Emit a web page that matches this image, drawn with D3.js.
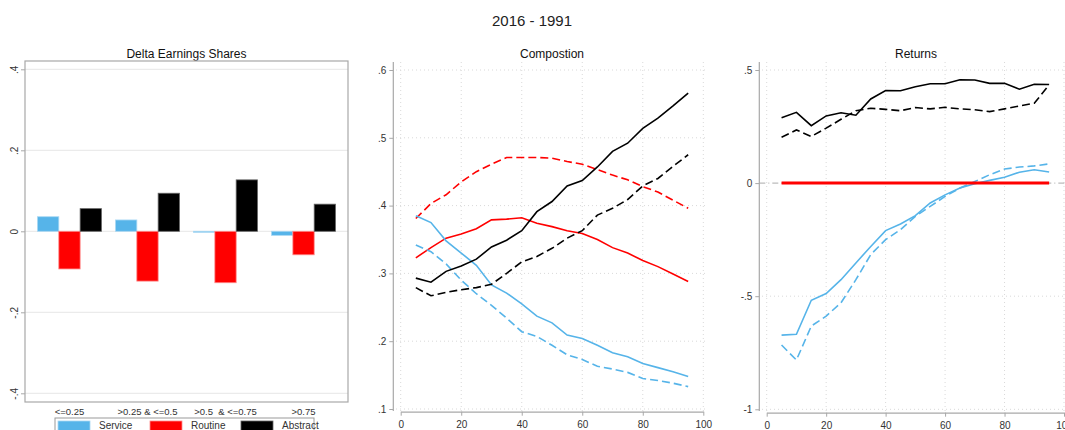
<!DOCTYPE html>
<html>
<head>
<meta charset="utf-8">
<script src="https://cdn.jsdelivr.net/npm/d3@7"></script>
<style>
body { margin: 0; background: #fff; }
svg { font-family: "Liberation Sans", Arial, sans-serif; }
</style>
</head>
<body>
<div id="chart"></div>
<script>
// ---- data ----
var groups = ["<=0.25", ">0.25 & <=0.5", ">0.5  & <=0.75", ">0.75"];
var barSeries = ["Service", "Routine", "Abstract"];
var serviceShare = [0.036, 0.028, -0.002, -0.010];
var routineShare = [-0.093, -0.123, -0.127, -0.058];
var abstractShare = [0.056, 0.094, 0.127, 0.067];
var shareTicks = [-0.4, -0.2, 0, 0.2, 0.4];

var pct = [5, 10, 15, 20, 25, 30, 35, 40, 45, 50, 55, 60, 65, 70, 75, 80, 85, 90, 95];
var pctTicks = [0, 20, 40, 60, 80, 100];

// composition (solid = 2016, dashed = 1991)
var compService16 = [0.385, 0.375, 0.348, 0.330, 0.312, 0.283, 0.271, 0.255, 0.237, 0.227, 0.209, 0.204, 0.194, 0.183, 0.177, 0.167, 0.161, 0.155, 0.148];
var compService91 = [0.342, 0.332, 0.314, 0.290, 0.270, 0.253, 0.234, 0.214, 0.207, 0.194, 0.180, 0.173, 0.163, 0.159, 0.154, 0.145, 0.142, 0.138, 0.133];
var compRoutine16 = [0.323, 0.338, 0.352, 0.358, 0.366, 0.379, 0.380, 0.382, 0.374, 0.369, 0.363, 0.359, 0.350, 0.338, 0.330, 0.319, 0.310, 0.299, 0.288];
var compRoutine91 = [0.381, 0.403, 0.416, 0.435, 0.450, 0.461, 0.471, 0.471, 0.471, 0.470, 0.465, 0.461, 0.453, 0.445, 0.438, 0.428, 0.420, 0.408, 0.396];
var compAbstract16 = [0.293, 0.287, 0.303, 0.311, 0.321, 0.339, 0.349, 0.363, 0.391, 0.406, 0.429, 0.437, 0.457, 0.480, 0.492, 0.514, 0.529, 0.547, 0.566];
var compAbstract91 = [0.279, 0.267, 0.272, 0.276, 0.279, 0.284, 0.300, 0.317, 0.325, 0.337, 0.352, 0.363, 0.386, 0.396, 0.409, 0.429, 0.440, 0.458, 0.475];
var compTicks = [0.1, 0.2, 0.3, 0.4, 0.5, 0.6];

// returns (solid = 2016, dashed = 1991)
var retService16 = [-0.672, -0.668, -0.518, -0.488, -0.427, -0.353, -0.280, -0.210, -0.181, -0.144, -0.088, -0.052, -0.022, -0.003, 0.012, 0.026, 0.048, 0.059, 0.049];
var retService91 = [-0.716, -0.782, -0.632, -0.588, -0.529, -0.427, -0.316, -0.250, -0.206, -0.147, -0.103, -0.059, -0.022, 0.007, 0.037, 0.062, 0.071, 0.076, 0.085];
var retRoutine = [0, 0, 0, 0, 0, 0, 0, 0, 0, 0, 0, 0, 0, 0, 0, 0, 0, 0, 0];
var retAbstract16 = [0.289, 0.313, 0.254, 0.297, 0.311, 0.300, 0.372, 0.409, 0.408, 0.426, 0.439, 0.439, 0.457, 0.456, 0.441, 0.441, 0.415, 0.437, 0.436];
var retAbstract91 = [0.203, 0.235, 0.206, 0.243, 0.282, 0.320, 0.331, 0.326, 0.320, 0.334, 0.328, 0.335, 0.328, 0.324, 0.316, 0.328, 0.341, 0.353, 0.434];
var retTicks = [-1, -0.5, 0, 0.5];

// ---- styles ----
var colBlue = "#56b4e9", colRed = "#ff0000", colBlack = "#000000";
var barColor = { Service: colBlue, Routine: colRed, Abstract: colBlack };
var barEdge = { Service: "#a9d8f3", Routine: "#ff8c8c", Abstract: "#666666" };
var txtCol = "#333";
var axCol = "#a8a8a8";
var gridCol = "#d9d9d9";

// stata style labels: .4  -.2  0
function stataFmt(v) {
    return String(+v.toFixed(2)).replace("0.", ".");
}

var svg = d3.select("#chart")
    .append("svg")
    .attr("width", 1065)
    .attr("height", 430);

svg.append("text")
    .attr("x", 532).attr("y", 26)
    .attr("text-anchor", "middle")
    .style("font-size", "15px")
    .attr("fill", "#222")
    .text("2016 - 1991");

// =================== panel 1 : bars ===================
var p1 = { left: 25, right: 348, top: 61, bottom: 402 };

var y1 = d3.scaleLinear().domain([-0.4, 0.4]).range([393.3, 69.3]);
var x1 = d3.scaleBand().domain(groups).range([p1.left, p1.right])
    .paddingInner(0.18).paddingOuter(0.16);
var xs1 = d3.scaleBand().domain(barSeries).range([0, x1.bandwidth()]);

svg.append("text")
    .attr("x", (p1.left + p1.right) / 2).attr("y", 58)
    .attr("text-anchor", "middle")
    .style("font-size", "12px").attr("fill", "#111")
    .text("Delta Earnings Shares");

// grid
svg.append("g").selectAll("line")
    .data(shareTicks).enter().append("line")
    .attr("x1", p1.left).attr("x2", p1.right)
    .attr("y1", function(d) { return y1(d); })
    .attr("y2", function(d) { return y1(d); })
    .attr("stroke", "#e6e6e6").attr("stroke-width", 1);

var ax1 = svg.append("g")
    .attr("transform", "translate(" + p1.left + ",0)")
    .call(d3.axisLeft(y1).tickValues(shareTicks).tickSize(4).tickFormat(stataFmt));
ax1.select(".domain").remove();
ax1.selectAll("line").attr("stroke", axCol);
ax1.selectAll("text")
    .attr("fill", txtCol).style("font-size", "10px")
    .attr("text-anchor", "middle")
    .attr("transform", "translate(-7,0) rotate(-90)")
    .attr("x", 0).attr("dy", "0").attr("y", 0);

// bars
var barRows = [];
groups.forEach(function(g, i) {
    barRows.push({ g: g, s: "Service", v: serviceShare[i] });
    barRows.push({ g: g, s: "Routine", v: routineShare[i] });
    barRows.push({ g: g, s: "Abstract", v: abstractShare[i] });
});

svg.append("g").selectAll("rect")
    .data(barRows).enter().append("rect")
    .attr("x", function(d) { return x1(d.g) + xs1(d.s); })
    .attr("width", xs1.bandwidth())
    .attr("y", function(d) { return y1(Math.max(0, d.v)); })
    .attr("height", function(d) { return Math.max(1, Math.abs(y1(d.v) - y1(0))); })
    .attr("fill", function(d) { return barColor[d.s]; })
    .attr("stroke", function(d) { return barEdge[d.s]; })
    .attr("stroke-width", 0.8);

svg.append("rect")
    .attr("x", p1.left).attr("y", p1.top)
    .attr("width", p1.right - p1.left).attr("height", p1.bottom - p1.top)
    .attr("fill", "none").attr("stroke", axCol).attr("stroke-width", 1.2);

svg.append("g").selectAll("text")
    .data(groups).enter().append("text")
    .attr("x", function(d) { return x1(d) + x1.bandwidth() / 2; })
    .attr("y", 415)
    .attr("text-anchor", "middle")
    .style("font-size", "9.5px").style("white-space", "pre")
    .attr("fill", txtCol)
    .text(function(d) { return d; });

// legend
svg.append("rect")
    .attr("x", 55).attr("y", 418).attr("width", 259).attr("height", 22)
    .attr("fill", "#fff").attr("stroke", "#9a9a9a");
var legX = [58, 150, 241];
barSeries.forEach(function(s, i) {
    svg.append("rect")
        .attr("x", legX[i]).attr("y", 421).attr("width", 32).attr("height", 12)
        .attr("fill", barColor[s]).attr("stroke", barEdge[s]).attr("stroke-width", 0.8);
    svg.append("text")
        .attr("x", legX[i] + 41).attr("y", 429)
        .style("font-size", "10px").attr("fill", txtCol)
        .text(s);
});

// =================== line panels ===================
function linePanel(cfg) {
    var x = d3.scaleLinear().domain([0, 100]).range(cfg.xr);
    var y = d3.scaleLinear().domain(cfg.yd).range(cfg.yr);

    svg.append("text")
        .attr("x", cfg.titleX).attr("y", 58)
        .attr("text-anchor", "middle")
        .style("font-size", "12px").attr("fill", "#111")
        .text(cfg.title);

    // dotted grid
    var gridG = svg.append("g");
    gridG.selectAll(".gx").data(pctTicks).enter().append("line")
        .attr("x1", function(d) { return x(d); }).attr("x2", function(d) { return x(d); })
        .attr("y1", cfg.top).attr("y2", cfg.bottom)
        .attr("stroke", gridCol).attr("stroke-dasharray", "1,3");
    gridG.selectAll(".gy").data(cfg.ticks.filter(function(t) { return t !== cfg.zeroLine; })).enter().append("line")
        .attr("x1", cfg.gridLeft).attr("x2", cfg.gridRight)
        .attr("y1", function(d) { return y(d); }).attr("y2", function(d) { return y(d); })
        .attr("stroke", gridCol).attr("stroke-dasharray", "1,3");

    if (cfg.zeroLine !== undefined) {
        svg.append("line")
            .attr("x1", cfg.axisX).attr("x2", cfg.gridRight)
            .attr("y1", y(0)).attr("y2", y(0))
            .attr("stroke", "#aaaaaa").attr("stroke-width", 1)
            .attr("stroke-dasharray", "6,3,1,3");
    }

    // axes
    var ay = svg.append("g")
        .attr("transform", "translate(" + cfg.axisX + ",0)")
        .call(d3.axisLeft(y).tickValues(cfg.ticks).tickSize(4).tickPadding(3).tickFormat(stataFmt));
    ay.select(".domain").remove();
    ay.selectAll("line").attr("stroke", axCol);
    ay.selectAll("text").attr("fill", txtCol).style("font-size", "10px");
    svg.append("line")
        .attr("x1", cfg.axisX).attr("x2", cfg.axisX)
        .attr("y1", cfg.top).attr("y2", cfg.bottom)
        .attr("stroke", axCol).attr("stroke-width", 1.2);

    var ax = svg.append("g")
        .attr("transform", "translate(0," + cfg.axisY + ")")
        .call(d3.axisBottom(x).tickValues(pctTicks).tickSize(4).tickSizeOuter(0).tickPadding(5));
    ax.select(".domain").attr("stroke", axCol).attr("stroke-width", 1.2);
    ax.selectAll("line").attr("stroke", axCol);
    ax.selectAll("text").attr("fill", txtCol).style("font-size", "10px");

    // series
    cfg.series.forEach(function(s) {
        svg.append("path")
            .datum(s.values)
            .attr("fill", "none")
            .attr("stroke", s.color)
            .attr("stroke-width", s.width || 1.6)
            .attr("stroke-dasharray", s.dashed ? "8,4" : null)
            .attr("d", d3.line()
                .x(function(d, i) { return x(pct[i]); })
                .y(function(d) { return y(d); }));
    });
}

linePanel({
    title: "Compostion", titleX: 552,
    xr: [400.7, 703.3], yd: [0.1, 0.6], yr: [409, 70],
    top: 62, bottom: 411, gridLeft: 396, gridRight: 708,
    axisX: 393.3, axisY: 411.7, ticks: compTicks,
    series: [
        { values: compRoutine91, color: colRed, dashed: true },
        { values: compRoutine16, color: colRed },
        { values: compService91, color: colBlue, dashed: true },
        { values: compService16, color: colBlue },
        { values: compAbstract91, color: colBlack, dashed: true },
        { values: compAbstract16, color: colBlack }
    ]
});

linePanel({
    title: "Returns", titleX: 916,
    xr: [766.7, 1064], yd: [-1, 0.5], yr: [409.3, 70],
    top: 62, bottom: 411, gridLeft: 762, gridRight: 1065,
    axisX: 759.3, axisY: 412.7, ticks: retTicks, zeroLine: 0,
    series: [
        { values: retAbstract91, color: colBlack, dashed: true },
        { values: retAbstract16, color: colBlack },
        { values: retService91, color: colBlue, dashed: true },
        { values: retService16, color: colBlue },
        { values: retRoutine, color: colRed, width: 3 }
    ]
});
</script>
</body>
</html>
